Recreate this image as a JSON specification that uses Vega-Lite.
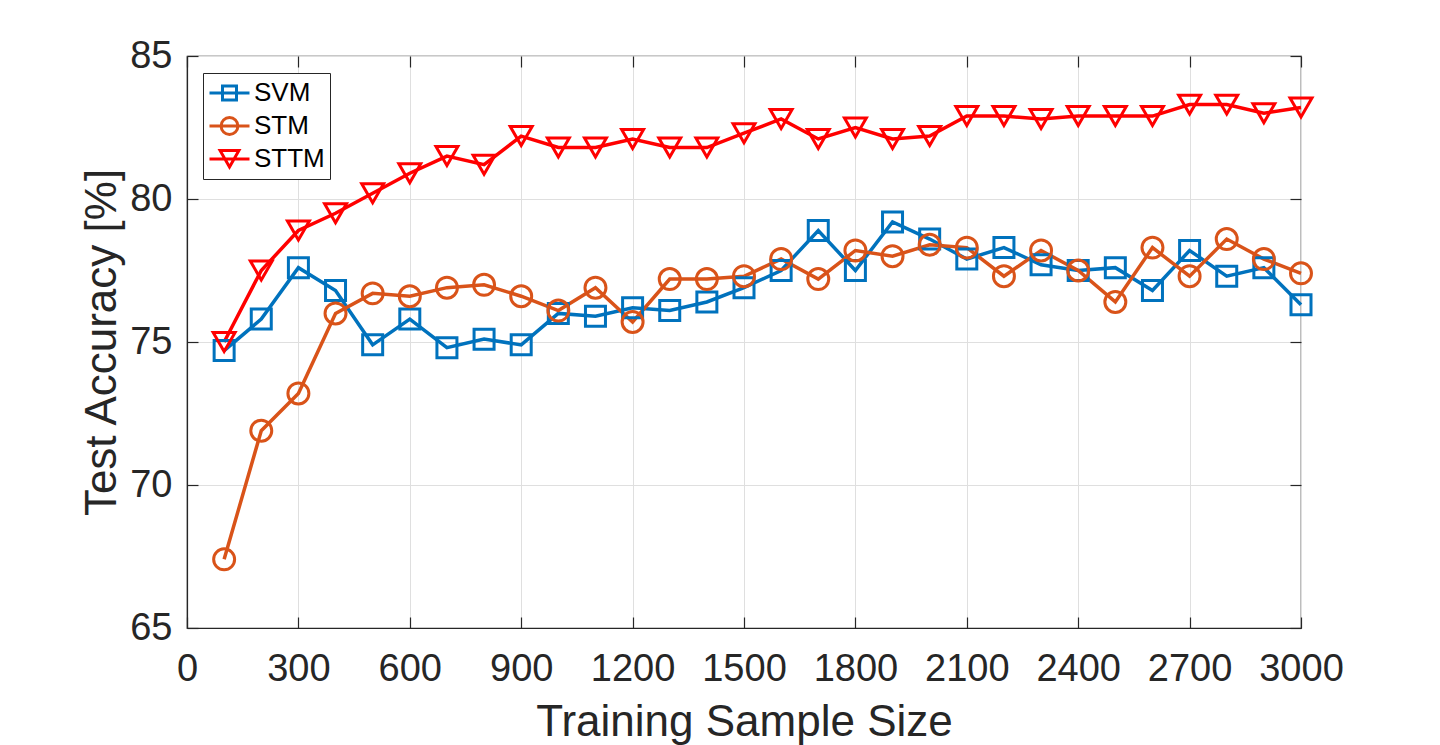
{
  "$schema": "https://vega.github.io/schema/vega-lite/v6.json",
  "width": 1114,
  "height": 572,
  "autosize": {"type": "none"},
  "padding": {"left": 187, "top": 56, "right": 139, "bottom": 117},
  "background": "white",
  "config": {
    "font": "Liberation Sans",
    "view": {"stroke": "#262626", "strokeWidth": 1.2},
    "axis": {
      "labelFont": "Liberation Sans",
      "titleFont": "Liberation Sans",
      "labelColor": "#262626",
      "titleColor": "#262626",
      "titleFontWeight": "normal",
      "domainColor": "#262626",
      "domainWidth": 1.2,
      "tickColor": "#262626",
      "tickWidth": 1.2,
      "gridColor": "#dfdfdf",
      "gridWidth": 1,
      "labelFlush": false,
      "labelOverlap": false
    }
  },
  "data": {
    "values": [
      {"n": 100, "method": "SVM", "acc": 74.7},
      {"n": 200, "method": "SVM", "acc": 75.8},
      {"n": 300, "method": "SVM", "acc": 77.6},
      {"n": 400, "method": "SVM", "acc": 76.8},
      {"n": 500, "method": "SVM", "acc": 74.9},
      {"n": 600, "method": "SVM", "acc": 75.8},
      {"n": 700, "method": "SVM", "acc": 74.8},
      {"n": 800, "method": "SVM", "acc": 75.1},
      {"n": 900, "method": "SVM", "acc": 74.9},
      {"n": 1000, "method": "SVM", "acc": 76.0},
      {"n": 1100, "method": "SVM", "acc": 75.9},
      {"n": 1200, "method": "SVM", "acc": 76.2},
      {"n": 1300, "method": "SVM", "acc": 76.1},
      {"n": 1400, "method": "SVM", "acc": 76.4},
      {"n": 1500, "method": "SVM", "acc": 76.9},
      {"n": 1600, "method": "SVM", "acc": 77.5},
      {"n": 1700, "method": "SVM", "acc": 78.9},
      {"n": 1800, "method": "SVM", "acc": 77.5},
      {"n": 1900, "method": "SVM", "acc": 79.2},
      {"n": 2000, "method": "SVM", "acc": 78.6},
      {"n": 2100, "method": "SVM", "acc": 77.9},
      {"n": 2200, "method": "SVM", "acc": 78.3},
      {"n": 2300, "method": "SVM", "acc": 77.7},
      {"n": 2400, "method": "SVM", "acc": 77.5},
      {"n": 2500, "method": "SVM", "acc": 77.6},
      {"n": 2600, "method": "SVM", "acc": 76.8},
      {"n": 2700, "method": "SVM", "acc": 78.2},
      {"n": 2800, "method": "SVM", "acc": 77.3},
      {"n": 2900, "method": "SVM", "acc": 77.6},
      {"n": 3000, "method": "SVM", "acc": 76.3},
      {"n": 100, "method": "STM", "acc": 67.4},
      {"n": 200, "method": "STM", "acc": 71.9},
      {"n": 300, "method": "STM", "acc": 73.2},
      {"n": 400, "method": "STM", "acc": 76.0},
      {"n": 500, "method": "STM", "acc": 76.7},
      {"n": 600, "method": "STM", "acc": 76.6},
      {"n": 700, "method": "STM", "acc": 76.9},
      {"n": 800, "method": "STM", "acc": 77.0},
      {"n": 900, "method": "STM", "acc": 76.6},
      {"n": 1000, "method": "STM", "acc": 76.1},
      {"n": 1100, "method": "STM", "acc": 76.9},
      {"n": 1200, "method": "STM", "acc": 75.7},
      {"n": 1300, "method": "STM", "acc": 77.2},
      {"n": 1400, "method": "STM", "acc": 77.2},
      {"n": 1500, "method": "STM", "acc": 77.3},
      {"n": 1600, "method": "STM", "acc": 77.9},
      {"n": 1700, "method": "STM", "acc": 77.2},
      {"n": 1800, "method": "STM", "acc": 78.2},
      {"n": 1900, "method": "STM", "acc": 78.0},
      {"n": 2000, "method": "STM", "acc": 78.4},
      {"n": 2100, "method": "STM", "acc": 78.3},
      {"n": 2200, "method": "STM", "acc": 77.3},
      {"n": 2300, "method": "STM", "acc": 78.2},
      {"n": 2400, "method": "STM", "acc": 77.5},
      {"n": 2500, "method": "STM", "acc": 76.4},
      {"n": 2600, "method": "STM", "acc": 78.3},
      {"n": 2700, "method": "STM", "acc": 77.3},
      {"n": 2800, "method": "STM", "acc": 78.6},
      {"n": 2900, "method": "STM", "acc": 77.9},
      {"n": 3000, "method": "STM", "acc": 77.4},
      {"n": 100, "method": "STTM", "acc": 75.0},
      {"n": 200, "method": "STTM", "acc": 77.5},
      {"n": 300, "method": "STTM", "acc": 78.9},
      {"n": 400, "method": "STTM", "acc": 79.5},
      {"n": 500, "method": "STTM", "acc": 80.2},
      {"n": 600, "method": "STTM", "acc": 80.9},
      {"n": 700, "method": "STTM", "acc": 81.5},
      {"n": 800, "method": "STTM", "acc": 81.2},
      {"n": 900, "method": "STTM", "acc": 82.2},
      {"n": 1000, "method": "STTM", "acc": 81.8},
      {"n": 1100, "method": "STTM", "acc": 81.8},
      {"n": 1200, "method": "STTM", "acc": 82.1},
      {"n": 1300, "method": "STTM", "acc": 81.8},
      {"n": 1400, "method": "STTM", "acc": 81.8},
      {"n": 1500, "method": "STTM", "acc": 82.3},
      {"n": 1600, "method": "STTM", "acc": 82.8},
      {"n": 1700, "method": "STTM", "acc": 82.1},
      {"n": 1800, "method": "STTM", "acc": 82.5},
      {"n": 1900, "method": "STTM", "acc": 82.1},
      {"n": 2000, "method": "STTM", "acc": 82.2},
      {"n": 2100, "method": "STTM", "acc": 82.9},
      {"n": 2200, "method": "STTM", "acc": 82.9},
      {"n": 2300, "method": "STTM", "acc": 82.8},
      {"n": 2400, "method": "STTM", "acc": 82.9},
      {"n": 2500, "method": "STTM", "acc": 82.9},
      {"n": 2600, "method": "STTM", "acc": 82.9},
      {"n": 2700, "method": "STTM", "acc": 83.3},
      {"n": 2800, "method": "STTM", "acc": 83.3},
      {"n": 2900, "method": "STTM", "acc": 83.0},
      {"n": 3000, "method": "STTM", "acc": 83.2}
    ]
  },
  "layer": [
    {
      "mark": {"type": "line", "strokeWidth": 3.5},
      "encoding": {
        "x": {
          "field": "n", "type": "quantitative",
          "scale": {"domain": [0, 3000], "nice": false},
          "axis": {
            "orient": "bottom",
            "values": [0, 300, 600, 900, 1200, 1500, 1800, 2100, 2400, 2700, 3000],
            "format": "d",
            "title": "Training Sample Size",
            "titleFontSize": 44,
            "titlePadding": 12,
            "labelFontSize": 38,
            "labelPadding": 33,
            "tickSize": -11,
            "grid": true
          }
        },
        "y": {
          "field": "acc", "type": "quantitative",
          "scale": {"domain": [65, 85], "nice": false, "zero": false},
          "axis": {
            "orient": "left",
            "values": [65, 70, 75, 80, 85],
            "title": "Test Accuracy [%]",
            "titleFontSize": 44,
            "titlePadding": 5,
            "labelFontSize": 38,
            "labelPadding": 26,
            "tickSize": -11,
            "grid": true
          }
        },
        "color": {
          "field": "method", "type": "nominal",
          "scale": {"domain": ["SVM", "STM", "STTM"], "range": ["#0072BD", "#D95319", "#FF0000"]},
          "legend": {
            "title": null,
            "orient": "none",
            "legendX": 16,
            "legendY": 17,
            "symbolType": "stroke",
            "symbolSize": 1600,
            "symbolStrokeWidth": 3,
            "symbolFillColor": "transparent",
            "labelFont": "Liberation Sans",
            "labelFontSize": 26,
            "labelColor": "#000000",
            "labelOffset": 3,
            "padding": 5,
            "rowPadding": 3,
            "clipHeight": 30,
            "fillColor": "white",
            "strokeColor": "#262626",
            "encode": {
              "symbols": {
                "update": {
                  "shape": {"signal": "datum.value === 'SVM' ? 'M-1,0L1,0M-0.35,-0.35L0.35,-0.35L0.35,0.35L-0.35,0.35Z' : datum.value === 'STM' ? 'M-1,0L1,0M0.42,0A0.42,0.42,0,1,1,-0.42,0A0.42,0.42,0,1,1,0.42,0Z' : 'M-1,0L1,0M0,0.4L0.47,-0.42L-0.47,-0.42Z'"},
                  "fill": {"value": "transparent"},
                  "strokeWidth": {"value": 3}
                }
              }
            }
          }
        }
      }
    },
    {
      "mark": {"type": "point", "filled": false, "strokeWidth": 3, "opacity": 1},
      "encoding": {
        "x": {"field": "n", "type": "quantitative", "axis": null},
        "y": {"field": "acc", "type": "quantitative", "axis": null},
        "stroke": {
          "field": "method", "type": "nominal",
          "scale": {"domain": ["STTM", "STM", "SVM"], "range": ["#FF0000", "#D95319", "#0072BD"]},
          "legend": null
        },
        "shape": {
          "field": "method", "type": "nominal",
          "scale": {"domain": ["STTM", "STM", "SVM"], "range": ["triangle-down", "circle", "square"]},
          "legend": null
        },
        "size": {
          "field": "method", "type": "nominal",
          "scale": {"domain": ["STTM", "STM", "SVM"], "range": [480, 400, 230]},
          "legend": null
        }
      }
    },
    {
      "mark": {"type": "point", "opacity": 0},
      "encoding": {
        "x": {
          "field": "n", "type": "quantitative",
          "axis": {
            "orient": "top",
            "values": [0, 300, 600, 900, 1200, 1500, 1800, 2100, 2400, 2700, 3000],
            "labels": false, "title": null, "domain": false, "grid": false,
            "tickSize": -11
          }
        },
        "y": {
          "field": "acc", "type": "quantitative",
          "axis": {
            "orient": "right",
            "values": [65, 70, 75, 80, 85],
            "labels": false, "title": null, "domain": false, "grid": false,
            "tickSize": -11
          }
        }
      }
    }
  ],
  "resolve": {"axis": {"x": "independent", "y": "independent"}}
}
